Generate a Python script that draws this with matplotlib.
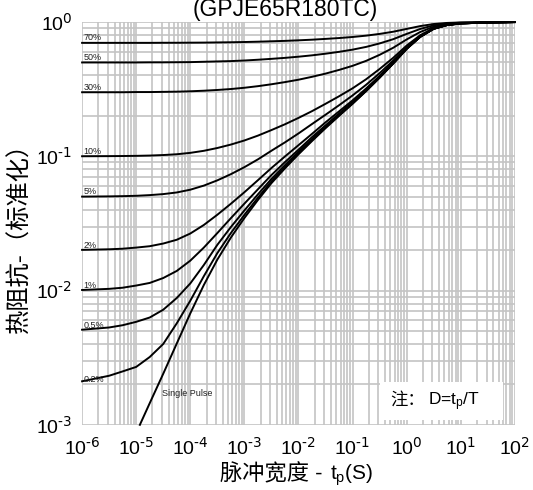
import matplotlib
matplotlib.use("Agg")
import matplotlib.pyplot as plt
from matplotlib.patches import Rectangle

plt.rcParams['font.family'] = ['Liberation Sans', 'Noto Sans CJK SC']
plt.rcParams['axes.unicode_minus'] = False

# pulse width grid (s)
t = [1e-6, 3.16e-6, 5.62e-6, 1e-5, 1.78e-5, 3.16e-5, 5.62e-5, 1e-4, 1.78e-4,
     3.16e-4, 5.62e-4, 1e-3, 1.78e-3, 3.16e-3, 5.62e-3, 1e-2, 1.78e-2, 3.16e-2,
     5.62e-2, 1e-1, 1.78e-1, 3.16e-1, 5.62e-1, 1, 1.78, 3.16, 5.62, 10, 31.6, 100]

# normalized thermal impedance for each duty cycle
z_70 = [0.700, 0.700, 0.700, 0.700, 0.700, 0.701, 0.701, 0.702, 0.703, 0.705,
        0.707, 0.710, 0.714, 0.719, 0.724, 0.731, 0.739, 0.749, 0.760, 0.774,
        0.792, 0.816, 0.847, 0.889, 0.933, 0.967, 0.985, 0.993, 0.998, 1.0]
z_50 = [0.500, 0.500, 0.500, 0.500, 0.501, 0.501, 0.502, 0.503, 0.506, 0.509,
        0.512, 0.517, 0.524, 0.532, 0.541, 0.552, 0.565, 0.581, 0.600, 0.623,
        0.653, 0.693, 0.745, 0.816, 0.888, 0.946, 0.976, 0.989, 0.997, 1.0]
z_30 = [0.300, 0.300, 0.300, 0.301, 0.301, 0.302, 0.303, 0.305, 0.308, 0.312,
        0.317, 0.324, 0.333, 0.344, 0.357, 0.372, 0.391, 0.413, 0.440, 0.472,
        0.514, 0.570, 0.643, 0.742, 0.843, 0.924, 0.966, 0.984, 0.995, 1.0]
z_10 = [0.1001, 0.1003, 0.1005, 0.1008, 0.1013, 0.1022, 0.1036, 0.1061, 0.1099, 0.1153,
        0.1223, 0.1312, 0.1426, 0.1568, 0.1732, 0.1932, 0.217, 0.246, 0.280, 0.321,
        0.375, 0.447, 0.541, 0.668, 0.798, 0.902, 0.956, 0.979, 0.994, 1.0]
z_5 = [0.0501, 0.0503, 0.0505, 0.0508, 0.0514, 0.0523, 0.0538, 0.0564, 0.0605, 0.0662,
       0.0736, 0.0830, 0.0949, 0.110, 0.127, 0.148, 0.174, 0.204, 0.240, 0.284,
       0.341, 0.416, 0.516, 0.649, 0.787, 0.896, 0.953, 0.978, 0.993, 1.0]
z_2 = [0.0201, 0.0203, 0.0205, 0.0209, 0.0214, 0.0224, 0.0239, 0.0266, 0.0308, 0.0367,
       0.0443, 0.0540, 0.0664, 0.0818, 0.0997, 0.121, 0.147, 0.179, 0.216, 0.261,
       0.320, 0.397, 0.500, 0.638, 0.780, 0.893, 0.952, 0.977, 0.993, 1.0]
z_1 = [0.0101, 0.0103, 0.0105, 0.0109, 0.0114, 0.0124, 0.0140, 0.0167, 0.0209, 0.0268,
       0.0346, 0.0444, 0.0568, 0.0725, 0.0905, 0.112, 0.139, 0.170, 0.208, 0.254,
       0.313, 0.391, 0.495, 0.635, 0.778, 0.892, 0.951, 0.977, 0.993, 1.0]
z_05 = [0.00511, 0.00531, 0.00552, 0.00585, 0.0063, 0.0072, 0.0088, 0.0113, 0.0155, 0.0219,
        0.0297, 0.0395, 0.0521, 0.0678, 0.0859, 0.108, 0.134, 0.166, 0.204, 0.250,
        0.309, 0.388, 0.492, 0.633, 0.777, 0.891, 0.951, 0.977, 0.993, 1.0]
z_02 = [0.00211, 0.00232, 0.00250, 0.0027, 0.0032, 0.0040, 0.0057, 0.0084, 0.0128, 0.0190,
        0.0268, 0.0366, 0.0492, 0.0650, 0.0831, 0.105, 0.132, 0.164, 0.202, 0.248,
        0.307, 0.386, 0.491, 0.632, 0.776, 0.891, 0.951, 0.977, 0.993, 1.0]

t_single = [1.17e-5, 1.78e-5, 3.16e-5, 5.62e-5, 1e-4, 1.78e-4, 3.16e-4, 5.62e-4,
            1e-3, 1.78e-3, 3.16e-3, 5.62e-3, 1e-2, 1.78e-2, 3.16e-2, 5.62e-2,
            1e-1, 1.78e-1, 3.16e-1, 5.62e-1, 1, 1.78, 3.16, 5.62, 10, 31.6, 100]
z_single = [0.001, 0.00145, 0.0024, 0.00403, 0.00676, 0.0110, 0.0170, 0.0248,
            0.0347, 0.0473, 0.0631, 0.0813, 0.1035, 0.130, 0.162, 0.200,
            0.246, 0.306, 0.385, 0.490, 0.631, 0.776, 0.891, 0.951, 0.977, 0.993, 1.0]

duty = [0.7, 0.5, 0.3, 0.1, 0.05, 0.02, 0.01, 0.005, 0.002]
duty_labels = ['70%', '50%', '30%', '10%', '5%', '2%', '1%', '0.5%', '0.2%']
curves = [z_70, z_50, z_30, z_10, z_5, z_2, z_1, z_05, z_02]

x_ticks = [1e-6, 1e-5, 1e-4, 1e-3, 1e-2, 1e-1, 1, 10, 100]
x_exps = ['-6', '-5', '-4', '-3', '-2', '-1', '0', '1', '2']
y_ticks = [1e-3, 1e-2, 1e-1, 1]
y_exps = ['-3', '-2', '-1', '0']


def pow10(e):
    return '$\\mathregular{10^{\\text{%s}}}$' % e


fig = plt.figure(figsize=(5.33, 4.9), dpi=100)
ax = fig.add_axes([0.154, 0.133, 0.812, 0.822])
ax.set_xscale('log')
ax.set_yscale('log')
ax.set_xlim(1e-6, 100)
ax.set_ylim(1e-3, 1)

ax.grid(True, which='both', color='#c4c4c4', linewidth=1.2)
ax.set_axisbelow(True)
for s in ax.spines.values():
    s.set_visible(False)
ax.tick_params(which='both', length=0)
ax.tick_params(axis='x', pad=9)
ax.tick_params(axis='y', pad=7)
ax.set_xticks(x_ticks)
ax.set_xticklabels([pow10(e) for e in x_exps], fontsize=14)
ax.set_yticks(y_ticks)
ax.set_yticklabels([pow10(e) for e in y_exps], fontsize=14)

for z, d, lab in zip(curves, duty, duty_labels):
    ax.plot(t, z, color='black', lw=1.4, clip_on=False)
    ax.text(1.05e-6, d * 1.01, lab, fontsize=6.5, color='#222222',
            ha='left', va='bottom')

ax.plot(t_single, z_single, color='black', lw=1.4, clip_on=False)
ax.text(3.0e-5, 0.0017, 'Single Pulse', fontsize=6.5, color='#222222',
        ha='left', va='center')

# note box over the grid, lower right
ax.add_patch(Rectangle((0.688, 0.012), 0.284, 0.095, transform=ax.transAxes,
                       facecolor='white', edgecolor='none', zorder=3))
ax.text(0.712, 0.0496, '注：', transform=ax.transAxes, fontsize=12.5,
        family='Noto Sans CJK SC', ha='left', va='baseline', zorder=4)
ax.text(0.799, 0.0496, 'D=$\\mathregular{t_p}$/T', transform=ax.transAxes,
        fontsize=12.5, ha='left', va='baseline', zorder=4)

fig.text(0.535, 0.967, '(GPJE65R180TC)', fontsize=16.5, ha='center', va='baseline')
fig.text(0.0375, 0.527, '热阻抗-（标准化）', fontsize=17.5, rotation=90,
         ha='center', va='center')
fig.text(0.6060, 0.0204, '脉冲宽度 -', fontsize=16, ha='right', va='baseline')
fig.text(0.619, 0.0204, '$\\mathregular{t_p}$(S)', fontsize=15, ha='left',
         va='baseline')

fig.savefig('out.png', dpi=100)
